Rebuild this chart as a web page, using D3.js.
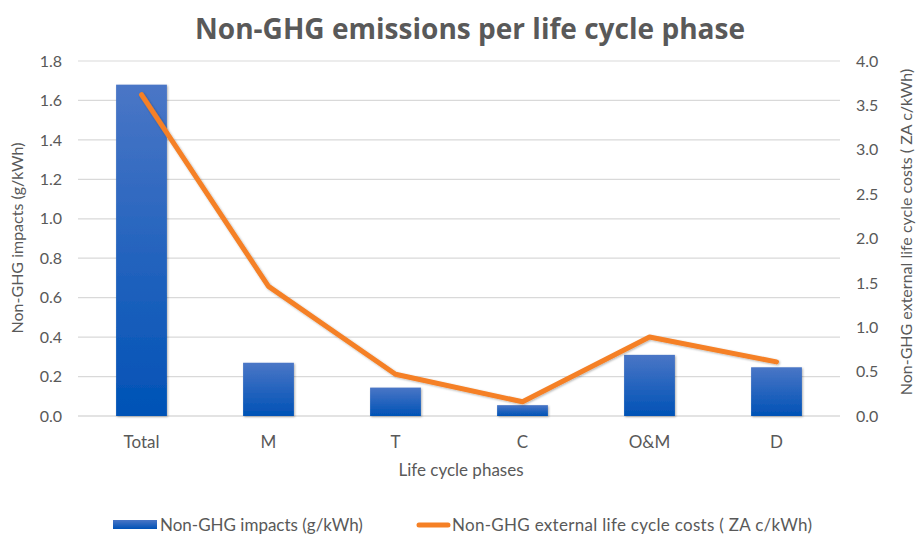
<!DOCTYPE html>
<html><head><meta charset="utf-8">
<script src="https://cdn.jsdelivr.net/npm/d3@7"></script>
<style>body{margin:0;background:#fff}svg{display:block}</style>
</head><body>
<svg id="c" width="917" height="535"></svg>
<script>
const categories = ["Total","M","T","C","O&M","D"];
const impacts = [1.68, 0.27, 0.144, 0.055, 0.31, 0.247];
const costs = [3.62, 1.46, 0.47, 0.16, 0.89, 0.61];
const leftTicks = [0,0.2,0.4,0.6,0.8,1.0,1.2,1.4,1.6,1.8];
const rightTicks = [0,0.5,1.0,1.5,2.0,2.5,3.0,3.5,4.0];
const title = "Non-GHG emissions per life cycle phase";
const yLeftTitle = "Non-GHG impacts (g/kWh)";
const yRightTitle = "Non-GHG external life cycle costs ( ZA c/kWh)";
const xTitle = "Life cycle phases";
const barName = "Non-GHG impacts (g/kWh)";
const lineName = "Non-GHG external life cycle costs ( ZA c/kWh)";

const svg = d3.select("#c");
const font = "Lato, 'Open Sans', sans-serif";
const tfont = "'Open Sans', sans-serif";
const gray = "#595959";
const fs = 16;
const x0 = 78, x1 = 840, yTop = 61, yBot = 416;

const x = d3.scaleBand().domain(categories).range([x0, x1]).paddingInner(0.6).paddingOuter(0.3);
const yL = d3.scaleLinear().domain([0,1.8]).range([yBot, yTop]);
const yR = d3.scaleLinear().domain([0,4]).range([yBot, yTop]);

const defs = svg.append("defs");
const g = defs.append("linearGradient").attr("id","bg").attr("x1",0).attr("y1",0).attr("x2",0).attr("y2",1);
g.append("stop").attr("offset","0%").attr("stop-color","#4a76c6");
g.append("stop").attr("offset","100%").attr("stop-color","#0052b6");
const f = defs.append("filter").attr("id","sh").attr("x","-20%").attr("y","-20%").attr("width","140%").attr("height","140%");
f.append("feDropShadow").attr("dx",1).attr("dy",1).attr("stdDeviation",1.2).attr("flood-color","#000").attr("flood-opacity",0.3);

// title
svg.append("text").attr("x", 470).attr("y", 39).attr("text-anchor","middle")
  .attr("font-family", tfont).attr("font-weight","bold").attr("font-size", 28).attr("fill", gray)
  .attr("textLength", 550).attr("lengthAdjust","spacingAndGlyphs").text(title);

// gridlines
svg.append("g").selectAll("line").data(leftTicks).join("line")
  .attr("x1", x0).attr("x2", x1).attr("y1", d=>yL(d)).attr("y2", d=>yL(d))
  .attr("stroke", d => d===0 ? "#c8c8c8" : "#d9d9d9").attr("stroke-width", 1.2);

// left axis
const axL = svg.append("g").attr("transform", `translate(${x0-10},0)`)
  .call(d3.axisLeft(yL).tickValues(leftTicks).tickFormat(d3.format(".1f")).tickSize(0).tickPadding(6));
axL.select(".domain").remove();
axL.selectAll("text").attr("font-family", font).attr("font-size", fs).attr("fill", gray);

// right axis
const axR = svg.append("g").attr("transform", `translate(${x1+10},0)`)
  .call(d3.axisRight(yR).tickValues(rightTicks).tickFormat(d3.format(".1f")).tickSize(0).tickPadding(6));
axR.select(".domain").remove();
axR.selectAll("text").attr("font-family", font).attr("font-size", fs).attr("fill", gray);

// x axis labels
const axX = svg.append("g").attr("transform", `translate(0,${yBot+18})`)
  .call(d3.axisBottom(x).tickSize(0).tickPadding(0));
axX.select(".domain").remove();
axX.selectAll("text").attr("font-family", font).attr("font-size", 17).attr("fill", gray).attr("dy","0.8em");

// bars
svg.append("g").selectAll("rect").data(categories).join("rect")
  .attr("x", d => x(d)).attr("width", x.bandwidth())
  .attr("y", (d,i) => yL(impacts[i])).attr("height", (d,i) => yBot - yL(impacts[i]))
  .attr("fill", "url(#bg)").attr("filter","url(#sh)");

// line
const line = d3.line().x((d,i) => x(categories[i]) + x.bandwidth()/2).y(d => yR(d));
svg.append("path").datum(costs).attr("d", line).attr("fill","none")
  .attr("stroke","#f58025").attr("stroke-width",5).attr("stroke-linejoin","round").attr("stroke-linecap","round")
  .attr("filter","url(#sh)");

// axis titles
svg.append("text").attr("transform", "translate(23,238) rotate(-90)").attr("text-anchor","middle")
  .attr("font-family", font).attr("font-size", fs).attr("fill", gray).text(yLeftTitle);
svg.append("text").attr("transform", "translate(912,232) rotate(-90)").attr("text-anchor","middle")
  .attr("font-family", font).attr("font-size", fs).attr("fill", gray).text(yRightTitle);
svg.append("text").attr("x", 461).attr("y", 476).attr("text-anchor","middle")
  .attr("font-family", font).attr("font-size", 17).attr("fill", gray).text(xTitle);

// legend
const lg = svg.append("g");
lg.append("rect").attr("x",113).attr("y",520).attr("width",44).attr("height",9).attr("fill","url(#bg)");
lg.append("text").attr("x",160).attr("y",531).attr("font-family",font).attr("font-size",17).attr("fill",gray).text(barName);
lg.append("line").attr("x1",419).attr("x2",448).attr("y1",525).attr("y2",525).attr("stroke","#f58025").attr("stroke-width",5).attr("stroke-linecap","round");
lg.append("text").attr("x",452).attr("y",531).attr("font-family",font).attr("font-size",17).attr("fill",gray)
  .attr("textLength",360).attr("lengthAdjust","spacing").text(lineName);
</script>
</body></html>
